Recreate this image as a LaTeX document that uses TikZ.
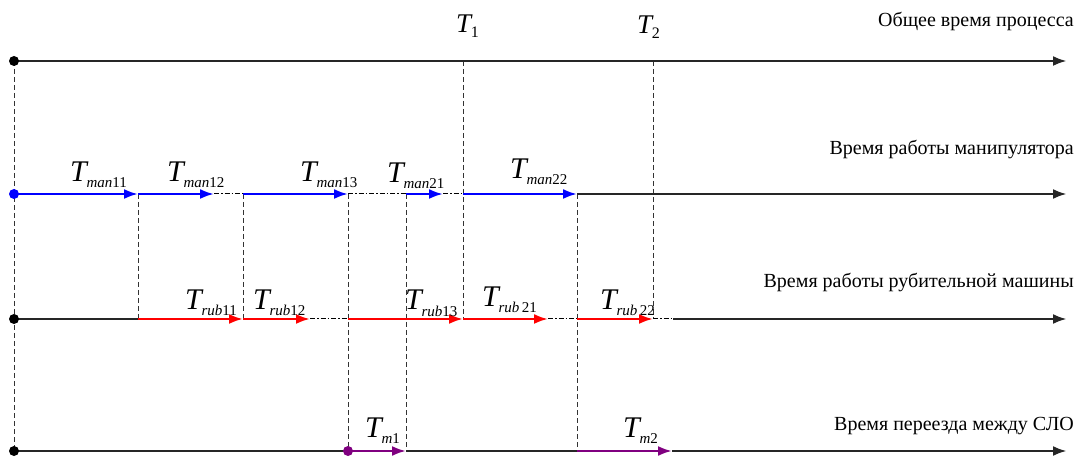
\documentclass[tikz,border=0pt]{standalone}
\usepackage{fontspec}
\setmainfont{Liberation Serif}
\usetikzlibrary{arrows.meta}
\definecolor{purp}{RGB}{128,0,128}
\newcommand{\TL}[2]{{\fontsize{30}{30}\selectfont\textit{T}}\kern-2pt\raisebox{-6pt}{\fontsize{15}{15}\selectfont\textit{#1}#2}}
\newcommand{\TN}[1]{{\fontsize{27}{27}\selectfont\textit{T}}\kern-2pt\raisebox{-5pt}{\fontsize{16}{16}\selectfont #1}}
\tikzset{
  mainline/.style={black!85, line width=2.8pt},
  endarrow/.style={-{Latex[length=14pt,width=10pt]}},
  colarrow/.style={line width=2.4pt, -{Latex[length=14pt,width=10pt]}},
  vdash/.style={black!80, line width=1pt, dash pattern=on 5pt off 3pt},
  ddot/.style={black, line width=1pt, dash pattern=on 5pt off 2pt on 1.5pt off 2pt},
  dotc/.style={circle, fill, inner sep=0pt, minimum size=10pt},
  lbl/.style={anchor=base west, inner sep=0pt},
  ttl/.style={anchor=base east, inner sep=0pt, font=\fontsize{20}{20}\selectfont}
}
\begin{document}
\begin{tikzpicture}[x=1pt,y=-1pt]
\useasboundingbox (0,0) rectangle (1080,457);
% line 1
\coordinate (a0) at (14,61);
\coordinate (aT1) at (463,61);
\coordinate (aT2) at (653,61);
\coordinate (aE) at (1067,61);
% line 2
\coordinate (b0) at (14,194);
\coordinate (b1) at (138,194);
\coordinate (b1e) at (214,194);
\coordinate (b2) at (243,194);
\coordinate (b3) at (348,194);
\coordinate (b4) at (406,194);
\coordinate (b4e) at (443,194);
\coordinate (b5) at (463,194);
\coordinate (b6) at (577,194);
\coordinate (bE) at (1067,194);
% line 3
\coordinate (c0) at (14,319);
\coordinate (c1) at (138,319);
\coordinate (c2) at (243,319);
\coordinate (c2e) at (310,319);
\coordinate (c3) at (348,319);
\coordinate (c5) at (463,319);
\coordinate (c5e) at (548,319);
\coordinate (c6) at (577,319);
\coordinate (c7) at (653,319);
\coordinate (c7e) at (673,319);
\coordinate (cE) at (1067,319);
% line 4
\coordinate (d0) at (14,451);
\coordinate (d3) at (348,451);
\coordinate (d4) at (406,451);
\coordinate (d6) at (577,451);
\coordinate (d7) at (672,451);
\coordinate (dE) at (1067,451);

% vertical dashed lines
\draw[vdash] (a0) -- (d0);
\draw[vdash] (b1) -- (c1);
\draw[vdash] (b2) -- (c2);
\draw[vdash] (b3) -- (d3);
\draw[vdash] (b4) -- (d4);
\draw[vdash] (aT1) -- (c5);
\draw[vdash] (b6) -- (d6);
\draw[vdash] (aT2) -- (c7);

% line 1
\draw[mainline, endarrow] (a0) -- (aE);
\node[dotc, black] (pa) at (a0) {};

% line 2
\draw[mainline, endarrow] (b6) -- (bE);
\draw[colarrow, blue] (b0) -- (b1);
\draw[colarrow, blue] (b1) -- (b1e);
\draw[ddot] (b1e) -- (b2);
\draw[colarrow, blue] (b2) -- (b3);
\draw[ddot] (b3) -- (b4);
\draw[colarrow, blue] (b4) -- (b4e);
\draw[ddot] (b4e) -- (b5);
\draw[colarrow, blue] (b5) -- (b6);
\node[dotc, blue] (pb) at (b0) {};

% line 3
\draw[mainline] (c0) -- (c1);
\draw[mainline, endarrow] (c7e) -- (cE);
\draw[colarrow, red] (c1) -- (c2);
\draw[colarrow, red] (c2) -- (c2e);
\draw[ddot] (c2e) -- (c3);
\draw[colarrow, red] (c3) -- (c5);
\draw[colarrow, red] (c5) -- (c5e);
\draw[ddot] (c5e) -- (c6);
\draw[colarrow, red] (c6) -- (c7);
\draw[ddot] (c7) -- (c7e);
\node[dotc, black] (pc) at (c0) {};

% line 4
\draw[mainline] (d0) -- (d3);
\draw[mainline] (d4) -- (d6);
\draw[mainline, endarrow] (d7) -- (dE);
\draw[colarrow, purp] (d3) -- (d4);
\draw[colarrow, purp] (d6) -- (d7);
\node[dotc, black] (pd) at (d0) {};
\node[dotc, purp] (pd3) at (d3) {};

% titles
\node[ttl] (t1) at (1074,27) {Общее время процесса};
\node[ttl] (t2) at (1074,155) {Время работы манипулятора};
\node[ttl] (t3) at (1074,288) {Время работы рубительной машины};
\node[ttl] (t4) at (1074,430) {Время переезда между СЛО};

% T labels
\node[lbl] (T1) at (456,33) {\TN{1}};
\node[lbl] (T2) at (637,34) {\TN{2}};

\node[lbl] (m11) at (70,182) {\TL{man}{11}};
\node[lbl] (m12) at (167,182) {\TL{man}{12}};
\node[lbl] (m13) at (300,182) {\TL{man}{13}};
\node[lbl] (m21) at (387,183) {\TL{man}{21}};
\node[lbl] (m22) at (510,179) {\TL{man}{22}};

\node[lbl] (r11) at (185,309) {\TL{rub}{11}};
\node[lbl] (r12) at (253,309) {\TL{rub}{12}};
\node[lbl] (r13) at (405,310) {\TL{rub}{13}};
\node[lbl] (r21) at (482,307) {\TL{rub}{\,21}};
\node[lbl] (r22) at (600,309) {\TL{rub}{\,22}};

\node[lbl] (tm1) at (365,437) {\TL{m}{1}};
\node[lbl] (tm2) at (623,437) {\TL{m}{2}};
\end{tikzpicture}
\end{document}
